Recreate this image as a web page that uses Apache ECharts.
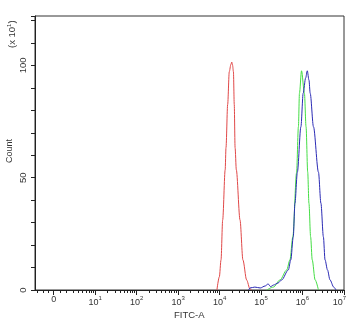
<!DOCTYPE html>
<html>
<head>
<meta charset="utf-8">
<script src="https://cdn.jsdelivr.net/npm/echarts@6/dist/echarts.min.js"></script>
<style>
  html, body { margin: 0; padding: 0; background: #fff; }
  #main { width: 350px; height: 323px; }
</style>
</head>
<body>
<div id="main"></div>
<script>
// x is in decades: 0 -> "0", 1 -> 10^1 ... 7 -> 10^7
var decades = [0, 1, 2, 3, 4, 5, 6, 7]
var minorTicks = [-0.4, -0.25, -0.12, 0.15, 0.3, 0.48, 0.6, 0.7, 0.78, 0.85, 0.9, 0.95]
var yLabels = [0, 50, 100]

var redX = [3.936, 3.995, 4.035, 4.075, 4.135, 4.155, 4.195, 4.234, 4.274, 4.294, 4.314, 4.334, 4.354, 4.374, 4.404, 4.493, 4.563, 4.652, 4.732, 4.772]
var redY = [0, 5.9, 13.4, 31.2, 53.5, 63.4, 82.6, 97.2, 100.5, 101.5, 100, 97.2, 82.6, 63.4, 53.5, 31.2, 13.4, 4.5, 0.5, 0]

var greenX = [5.14, 5.299, 5.458, 5.618, 5.697, 5.767, 5.856, 5.901, 5.926, 5.976, 6.046, 6.085, 6.125, 6.155, 6.195, 6.234, 6.304, 6.384]
var greenY = [0, 1.3, 4.5, 8.9, 13.4, 23.7, 52.1, 72.7, 87.6, 97.6, 87.6, 72.7, 52.5, 38.6, 23.7, 13.4, 4.5, 0]

var blueX = [4.702, 4.732, 4.851, 4.981, 5.1, 5.17, 5.23, 5.299, 5.409, 5.498, 5.657, 5.717, 5.777, 5.817, 5.876, 5.961, 6.016, 6.075, 6.115, 6.155, 6.185, 6.264, 6.384, 6.444, 6.503, 6.543, 6.603, 6.662, 6.752, 6.807]
var blueY = [0, 0.9, 1.3, 0.9, 1.8, 2.7, 1.5, 2.2, 3.1, 4.5, 8.9, 13.4, 23.7, 38.6, 52.5, 72.7, 87.6, 94.4, 97.6, 93.5, 87.6, 72.7, 52.5, 38.6, 23.7, 13.4, 8.9, 4.5, 1.3, 0]

var chart = function () {}

chart.prototype = {
    init: function () {
        this.myChart = echarts.init(document.getElementById('main'))
        this.myChart.setOption(this.getOption())
    },
    pairs: function (xs, ys) {
        return xs.map(function (v, i) { return [v, ys[i]] })
    },
    line: function (name, xs, ys, color) {
        return {
            name: name,
            type: 'line',
            xAxisIndex: 0,
            data: this.pairs(xs, ys),
            showSymbol: false,
            smooth: 0.3,
            smoothMonotone: 'x',
            lineStyle: { color: color, width: 1 },
            z: 3
        }
    },
    getOption: function () {
        var font = 'Liberation Sans'
        return {
            animation: false,
            grid: {
                left: 35, top: 16, right: 6, bottom: 33,
                outerBoundsMode: 'none', containLabel: false,
                show: true, borderColor: '#333', borderWidth: 1
            },
            xAxis: [{
                type: 'value', min: -0.45, max: 7,
                axisLine: { lineStyle: { color: '#222', width: 1 } },
                axisTick: { customValues: decades, length: 5, lineStyle: { color: '#222' } },
                splitLine: { show: false },
                axisLabel: {
                    customValues: decades, margin: 5, color: '#333', fontFamily: font, fontSize: 9,
                    formatter: function (v) {
                        if (v === 0) return '{b|0}'
                        // last label is kept inside the canvas
                        if (v === 7) return '{b|10}{s|7}{p|}'
                        return '{b|10}{s|' + v + '}'
                    },
                    rich: {
                        b: { fontSize: 9, fontFamily: font, color: '#333', verticalAlign: 'bottom' },
                        s: { fontSize: 6, fontFamily: font, color: '#333', verticalAlign: 'top', padding: [0, 0, 6, 0] },
                        p: { width: 9 }
                    }
                }
            }, {
                type: 'value', min: -0.45, max: 7, position: 'bottom',
                axisLine: { show: false },
                axisTick: {
                    customValues: minorTicks.concat([].concat.apply([], [1, 2, 3, 4, 5, 6].map(function (d) {
                        return [2, 3, 4, 5, 6, 7, 8, 9].map(function (k) { return d + Math.log10(k) })
                    }))),
                    length: 3, lineStyle: { color: '#222' }
                },
                axisLabel: { show: false },
                splitLine: { show: false }
            }],
            yAxis: {
                type: 'value', min: 0, max: 122, interval: 10,
                axisLine: { show: true, onZero: false, lineStyle: { color: '#222', width: 1 } },
                axisTick: { show: true, length: 4, lineStyle: { color: '#222' } },
                splitLine: { show: false },
                axisLabel: {
                    customValues: yLabels, rotate: 90, margin: 7,
                    color: '#333', fontFamily: font, fontSize: 9.5
                }
            },
            graphic: [{
                type: 'text', x: 6, y: 48, rotation: Math.PI / 2,
                style: {
                    text: '(x 10{s|1})', fill: '#333', font: '9.5px "Liberation Sans"',
                    rich: { s: { fontSize: 6, fontFamily: font, fill: '#333', padding: [0, 0, 6, 0] } }
                }
            }, {
                type: 'text', x: 5, y: 163, rotation: Math.PI / 2,
                style: { text: 'Count', fill: '#333', font: '9px "Liberation Sans"' }
            }, {
                type: 'text', x: 174, y: 310,
                style: { text: 'FITC-A', fill: '#333', font: '9.5px "Liberation Sans"' }
            }],
            series: [
                this.line('red', redX, redY, '#e04848'),
                this.line('green', greenX, greenY, '#44dd44'),
                this.line('blue', blueX, blueY, '#2a2ab4')
            ]
        }
    }
}

new chart().init()
</script>
</body>
</html>
